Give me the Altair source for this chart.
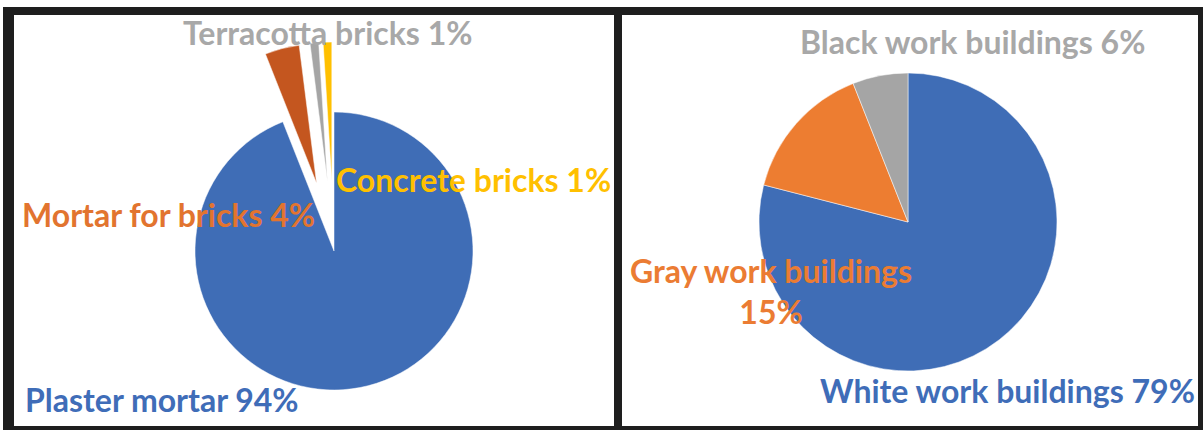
import altair as alt
import pandas as pd

# ---- data ----
left_categories = ["Plaster mortar", "Mortar for bricks", "Terracotta bricks", "Concrete bricks"]
left_values = [94, 4, 1, 1]
right_categories = ["White work buildings", "Gray work buildings", "Black work buildings"]
right_values = [79, 15, 6]

# ---- styles ----
slice_domain = left_categories + right_categories
slice_range = ["#3F6DB6", "#C4561F", "#A5A5A5", "#FFC000", "#3F6DB6", "#ED7D31", "#A5A5A5"]
label_colors = {
    "Plaster mortar": "#3F6DB8", "Mortar for bricks": "#E2742F", "Terracotta bricks": "#A8A8A8",
    "Concrete bricks": "#FFC000", "White work buildings": "#3F6DB8", "Gray work buildings": "#EB7C33",
    "Black work buildings": "#A8A8A8",
}
FONT = "Lato"
FS = 32
FRAME = "#1E1E1E"

W, H = 1203, 430
LCX, LCY, LR = 334, 251, 139
RCX, RCY, RR = 908, 222, 149
EXPLODE = 70

left_df = pd.DataFrame({"category": left_categories, "value": left_values, "order": list(range(len(left_values)))})
right_df = pd.DataFrame({"category": right_categories, "value": right_values, "order": list(range(len(right_values)))})

color = alt.Color("category:N", scale=alt.Scale(domain=slice_domain, range=slice_range), legend=None)


def pie(df, cx, cy, r, explode):
    return (
        alt.Chart(df)
        .transform_joinaggregate(total="sum(value)")
        .transform_window(cum="sum(value)", sort=[alt.SortField("order")], frame=[None, 0])
        .transform_calculate(
            start="(datum.cum - datum.value) / datum.total * 2 * PI",
            end="datum.cum / datum.total * 2 * PI",
            mid="(datum.cum - datum.value / 2) / datum.total * 2 * PI",
            ex=f"datum.order == 0 ? 0 : {explode}",
        )
        .transform_calculate(
            px=f"{cx} + datum.ex * sin(datum.mid)",
            py=f"{cy} - datum.ex * cos(datum.mid)",
        )
        .mark_arc(radius=r, stroke="white", strokeWidth=0.5)
        .encode(
            theta=alt.Theta("start:Q", scale=None, stack=False),
            theta2="end:Q",
            x=alt.X("px:Q", scale=None),
            y=alt.Y("py:Q", scale=None),
            color=color,
        )
    )


def label(df, cat, x, y, align="left", two_line=False):
    expr = "datum.category + ' ' + datum.value + '%'"
    if two_line:
        expr = "datum.category + '\\n' + datum.value + '%'"
    return (
        alt.Chart(df)
        .transform_filter(alt.datum.category == cat)
        .transform_calculate(label=expr)
        .mark_text(font=FONT, fontWeight="bold", fontSize=FS, color=label_colors[cat],
                   align=align, baseline="alphabetic", lineBreak="\n", lineHeight=41)
        .encode(x=alt.value(x), y=alt.value(y), text="label:N")
    )


frame_df = pd.DataFrame({"k": [0]})


def bar(x1, x2, y1, y2):
    return alt.Chart(frame_df).mark_rect(color=FRAME).encode(
        x=alt.value(x1), x2=alt.value(x2), y=alt.value(y1), y2=alt.value(y2)
    )


frames = [
    bar(3, 1203, 7, 15),
    bar(3, 1203, 426, 430),
    bar(3, 14, 7, 430),
    bar(614, 622, 7, 430),
    bar(1198, 1203, 7, 430),
]

layers = frames + [
    pie(left_df, LCX, LCY, LR, EXPLODE),
    pie(right_df, RCX, RCY, RR, 0),
    label(left_df, "Terracotta bricks", 183, 45),
    label(left_df, "Concrete bricks", 336, 192),
    label(left_df, "Mortar for bricks", 22, 227),
    label(left_df, "Plaster mortar", 25, 412),
    label(right_df, "Black work buildings", 800, 54),
    label(right_df, "Gray work buildings", 771, 283, align="center", two_line=True),
    label(right_df, "White work buildings", 820, 403),
]

chart = (
    alt.layer(*layers)
    .properties(width=W, height=H, padding=0, autosize=alt.AutoSizeParams(type="none"), background="white")
    .configure_view(stroke=None)
)

chart.save("out.html", embed_options={"renderer": "svg", "actions": False})
